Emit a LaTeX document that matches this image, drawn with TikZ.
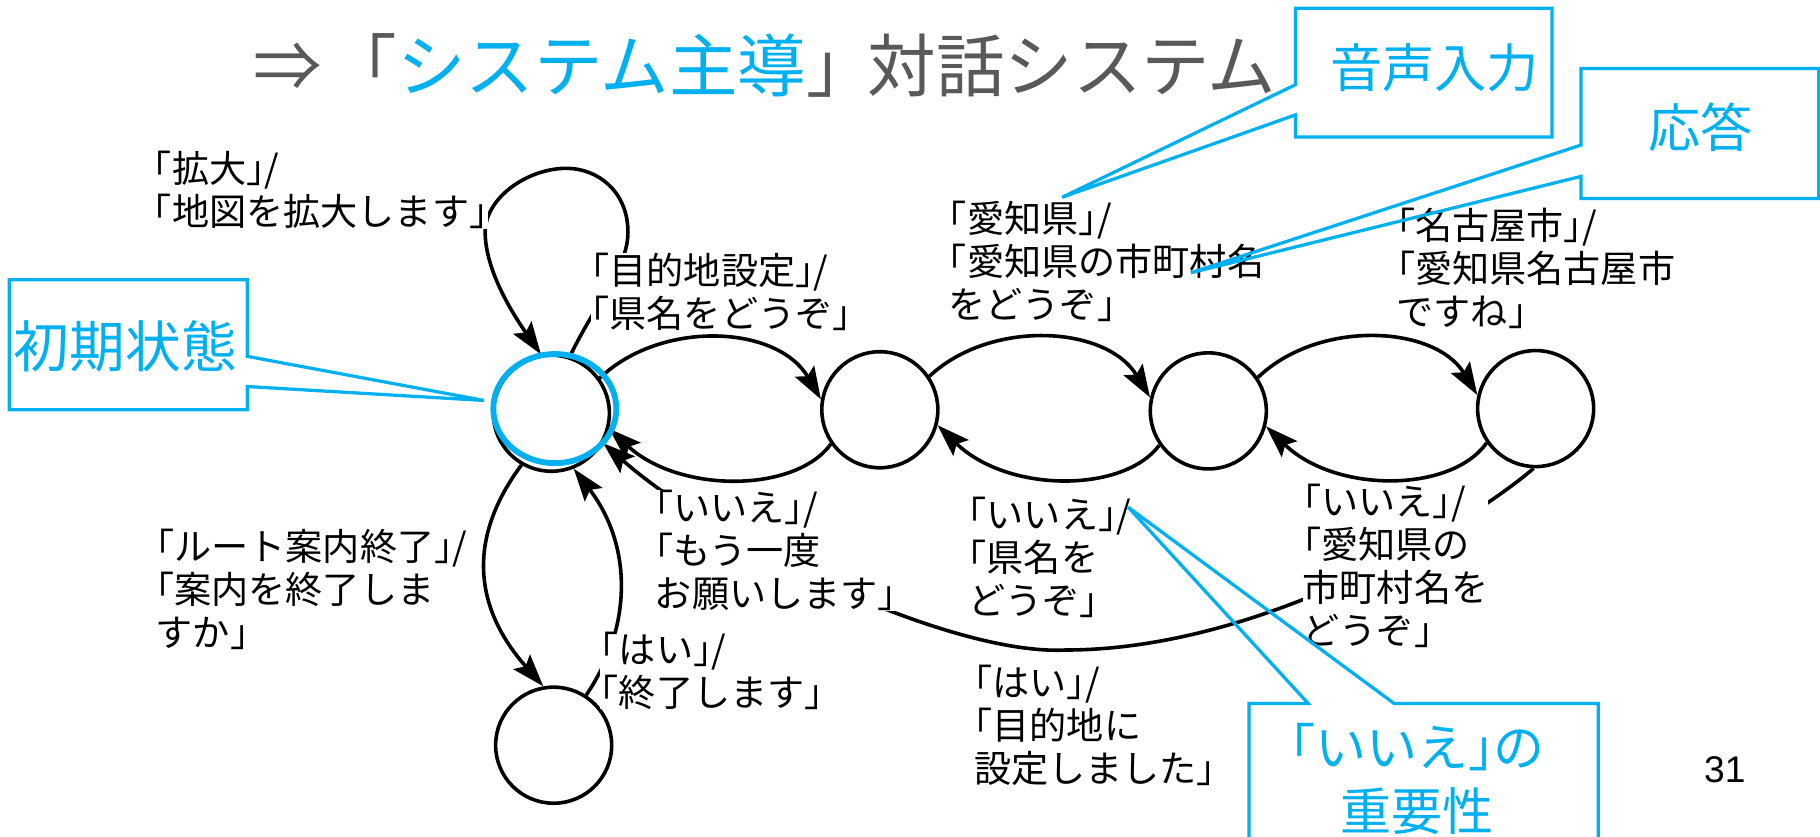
\documentclass[tikz,border=0pt]{standalone}
\usepackage{fontspec}
\newfontfamily\jp{Noto Sans CJK JP}[RawFeature=+halt]
\newfontfamily\jpt{Noto Sans CJK JP}
\newfontfamily\arial{Liberation Sans}
\usetikzlibrary{arrows.meta}
\definecolor{cy}{HTML}{00B0F0}
\definecolor{tgray}{HTML}{595959}
\begin{document}
\begin{tikzpicture}[x=1pt,y=-1pt,
  state/.style={circle,draw,line width=3.1pt,minimum size=100pt,inner sep=0pt},
  edge/.style={line width=3.1pt,-{Stealth[length=28pt,width=19pt,inset=5pt]}},
  lbl/.style={font=\jp\fontsize{32}{37}\selectfont,align=left,anchor=north west,inner sep=0pt},
  hidelbl/.style={lbl,fill=white},
  callout/.style={draw=cy,line width=2.8pt},
  ctext/.style={text=cy,inner sep=0pt,font=\jp\fontsize{45}{55}\selectfont}]
\path[use as bounding box] (0,0) rectangle (1568,721);
% title
\node[anchor=base west,inner sep=0pt,text=tgray,font=\jpt\fontsize{59}{70}\selectfont] (T) at (218,79) {⇒\kern6pt「\textcolor{cy}{システム主導}」\kern-6pt対話システム};
% states
\node[state] (S0) at (475,356) {};
\node[state] (S1) at (758,353) {};
\node[state] (S2) at (1041,354) {};
\node[state] (S3) at (1323,352) {};
\node[state] (S4) at (477,642) {};
% edges
\draw[edge] (S0.72) .. controls (515,258) and (541,230) .. (541,200) .. controls (541,165) and (515,145) .. (488,145) .. controls (455,145) and (418,170) .. (418,200) .. controls (418,235) and (445,275) .. (S0.100);
\draw[edge] (S0.36) .. controls (570,275) and (670,280) .. (S1.170);
\draw[edge] (S1.34) .. controls (853,275) and (953,280) .. (S2.167);
\draw[edge] (S2.34) .. controls (1136,275) and (1236,280) .. (S3.167);
\draw[edge] (S1.215) .. controls (685,425) and (585,425) .. (S0.-15);
\draw[edge] (S2.215) .. controls (968,425) and (868,425) .. (S1.-15);
\draw[edge] (S3.215) .. controls (1250,425) and (1150,425) .. (S2.-15);
\draw[edge] (S3.268) .. controls (1270,448) and (1090,560) .. (918,560) .. controls (820,565) and (620,470) .. (S0.-30);
\draw[edge] (S0.240) .. controls (405,460) and (405,520) .. (S4.100);
\draw[edge] (S4.57) .. controls (545,540) and (545,470) .. (S0.-68);
% labels
\node[hidelbl] (La) at (132,130) {「拡大」/\\「地図を拡大します」};
\node[hidelbl] (Lb) at (509,218) {「目的地設定」/\\「県名をどうぞ」};
\node[hidelbl] (Lc) at (817,173) {「愛知県」/\\「愛知県の市町村名\\をどうぞ」};
\node[hidelbl] (Ld) at (1203,179) {「名古屋市」/\\「愛知県名古屋市\\ですね」};
\node[hidelbl] (Le) at (134,456) {「ルート案内終了」/\\「案内を終了しま\\すか」};
\node[hidelbl] (Lf) at (564,422) {「いいえ」/\\「もう一度\\お願いします」};
\node[hidelbl] (Lg) at (517,544) {「はい」/\\「終了します」};
\node[hidelbl] (Lh) at (834,428) {「いいえ」/\\「県名を\\どうぞ」};
\node[hidelbl] (Li) at (1122,417) {「いいえ」/\\「愛知県の\\市町村名を\\どうぞ」};
\node[hidelbl] (Lj) at (839,573) {「はい」/\\「目的地に\\設定しました」};
% highlight ring
\draw[cy,line width=5pt] (478,352) ellipse [x radius=53, y radius=47];
% callouts
\draw[callout] (8,241) -- (213,241) -- (213,307) -- (417,345) -- (213,333) -- (213,353) -- (8,353) -- cycle;
\node[ctext,font=\jp\fontsize{48}{55}\selectfont] (C0) at (108,298) {初期状態};
\draw[callout] (1116,7) -- (1337,7) -- (1337,118) -- (1116,118) -- (1116,99) -- (915,170) -- (1116,73) -- cycle;
\node[ctext] (C1) at (1236,58) {音声入力};
\draw[callout] (1362,59) -- (1567,59) -- (1567,171) -- (1362,171) -- (1362,152) -- (1026,235) -- (1362,125) -- cycle;
\node[ctext] (C2) at (1465,110) {応答};
\draw[callout] (1076,724) -- (1076,606) -- (1127,606) -- (972,437) -- (1201,606) -- (1377,606) -- (1377,724);
\node[ctext,align=center,font=\jp\fontsize{44}{55}\selectfont] (C3) at (1221,671) {「いいえ」の\\重要性};
% page number
\node[font=\arial\fontsize{32}{38}\selectfont,inner sep=0pt] (P) at (1486,663) {31};
\end{tikzpicture}
\end{document}
